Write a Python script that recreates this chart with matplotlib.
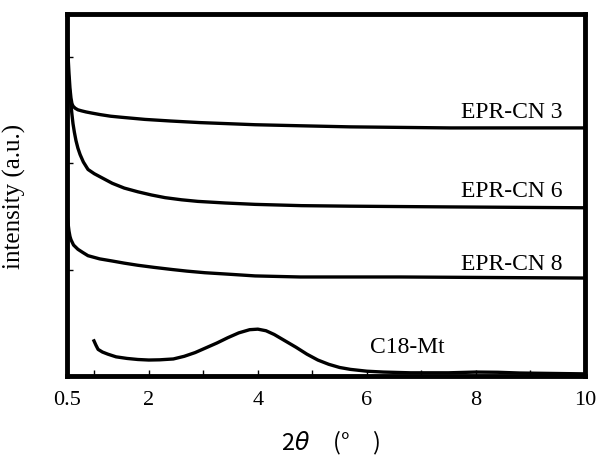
import matplotlib
matplotlib.use("Agg")
import matplotlib.pyplot as plt
import numpy as np

cn3_x = [0.5, 0.52, 0.537, 0.555, 0.573, 0.59, 0.61, 0.65, 0.70, 0.77, 0.85, 0.95, 1.11,
         1.3, 1.5, 1.93, 2.4, 2.94, 3.45, 3.95, 4.8, 5.69, 7.53, 10.0]
cn3_y = [3.16, 3.0, 2.84, 2.70, 2.61, 2.56, 2.535, 2.515, 2.50, 2.49, 2.48, 2.47, 2.455,
         2.44, 2.43, 2.41, 2.395, 2.38, 2.37, 2.36, 2.35, 2.34, 2.33, 2.33]

cn6_x = [0.5, 0.52, 0.537, 0.555, 0.573, 0.59, 0.61, 0.635, 0.665, 0.70, 0.74, 0.80, 0.885,
         1.0, 1.11, 1.22, 1.33, 1.55, 1.80, 2.05, 2.30, 2.60, 2.90, 3.4, 3.95, 4.8, 5.69,
         7.53, 10.0]
cn6_y = [2.98, 2.86, 2.74, 2.64, 2.55, 2.46, 2.37, 2.29, 2.21, 2.14, 2.08, 2.01, 1.94,
         1.90, 1.87, 1.84, 1.81, 1.765, 1.73, 1.70, 1.675, 1.655, 1.64, 1.625, 1.612, 1.60,
         1.595, 1.588, 1.58]

cn8_x = [0.5, 0.52, 0.537, 0.555, 0.573, 0.62, 0.70, 0.79, 0.885, 1.1, 1.33, 1.55, 1.80,
         2.1, 2.43, 2.7, 3.03, 3.5, 3.95, 4.78, 6.61, 10.0]
cn8_y = [1.52, 1.43, 1.36, 1.31, 1.28, 1.23, 1.19, 1.16, 1.13, 1.10, 1.08, 1.06, 1.04,
         1.02, 1.00, 0.985, 0.97, 0.955, 0.94, 0.93, 0.93, 0.92]

c18_x = [0.995, 1.03, 1.07, 1.15, 1.25, 1.4, 1.6, 1.8, 2.0, 2.2, 2.45, 2.65, 2.85, 3.05,
         3.25, 3.45, 3.65, 3.85, 4.0, 4.15, 4.3, 4.5, 4.7, 4.9, 5.1, 5.3, 5.5, 5.7, 6.0,
         6.3, 6.8, 7.5, 8.0, 8.4, 8.8, 10.0]
c18_y = [0.33, 0.29, 0.25, 0.225, 0.205, 0.18, 0.165, 0.155, 0.15, 0.152, 0.16, 0.185,
         0.22, 0.265, 0.31, 0.36, 0.405, 0.435, 0.44, 0.425, 0.39, 0.33, 0.27, 0.205,
         0.15, 0.11, 0.08, 0.062, 0.045, 0.037, 0.03, 0.03, 0.037, 0.035, 0.028, 0.02]

labels = ["EPR-CN 3", "EPR-CN 6", "EPR-CN 8"]
label_y = [2.48, 1.74, 1.06]

xticks = [0.5, 1, 2, 3, 4, 5, 6, 7, 8, 9, 10]
xticklabels = ["0.5", "", "2", "", "4", "", "6", "", "8", "", "10"]

serif = "Liberation Serif"

fig = plt.figure(figsize=(5.99, 4.56), dpi=100)
ax = fig.add_axes([67 / 599, 1 - 377 / 456, 518 / 599, 362 / 456])

for xs, ys in [(cn3_x, cn3_y), (cn6_x, cn6_y), (cn8_x, cn8_y), (c18_x, c18_y)]:
    ax.plot(xs, ys, color="black", lw=2.4, solid_joinstyle="round")

for lab, yy in zip(labels, label_y):
    ax.text(9.58, yy, lab, ha="right", va="center", fontsize=17, family=serif)
ax.text(6.75, 0.28, "C18-Mt", ha="center", va="center", fontsize=17, family=serif)

ax.set_xlim(0.5, 10)
ax.set_ylim(0, 3.4)
ax.set_xticks(xticks)
ax.set_xticklabels(xticklabels, family=serif, fontsize=16)
ax.set_yticks([1, 2, 3])
ax.set_yticklabels([])
ax.tick_params(direction="in", length=4, width=1, pad=10)

for sp in ax.spines.values():
    sp.set_linewidth(3.5)

fig.text(14 / 599, 1 - 196 / 456, "intensity (a.u.)", rotation=90, ha="center",
         va="center", fontsize=18, family=serif)
fig.text(331 / 599, 1 - 443 / 456, "2$\\theta$\u3000(\u00b0\u3000)", ha="center", va="center",
         fontsize=17, family=["Noto Sans CJK JP", "DejaVu Sans"])

fig.savefig("out.png", dpi=100)
